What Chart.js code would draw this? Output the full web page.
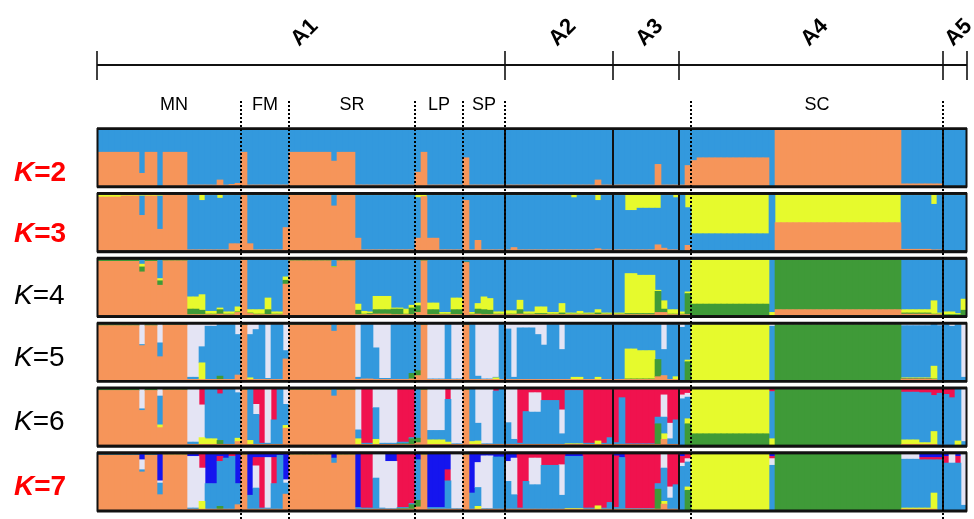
<!DOCTYPE html>
<html>
<head>
<meta charset="utf-8">
<script src="https://cdn.jsdelivr.net/npm/chart.js@4"></script>
<style>
  body { margin: 0; background: #fff; }
  #wrap { position: relative; width: 974px; height: 519px; overflow: hidden; font-family: "Liberation Sans", Arial, sans-serif; }
  #c { position: absolute; left: 0; top: 0; }
  .lbl { position: absolute; white-space: nowrap; transform: translate(-50%, -50%); }
  .grp { font-size: 22px; font-weight: bold; transform: translate(-50%, -50%) rotate(-45deg); }
  .pop { font-size: 18px; }
  .k { position: absolute; left: 14px; font-size: 28px; white-space: nowrap; transform: translateY(-50%); }
  .k i { font-style: italic; }
  .k.red { color: #ff0000; font-weight: bold; }
</style>
</head>
<body>
<div id="wrap">
  <canvas id="c" width="974" height="519"></canvas>
</div>
<script>
// cluster colours
const COLORS = {
  orange: "#F6955A",
  blue: "#3399DD",
  yellow: "#E6FA2D",
  green: "#3F9A38",
  lavender: "#E4E4F4",
  red: "#F0124E",
  navy: "#1515EE",
};

// stacking order (bottom -> top) for each K
const orderK2 = ["orange", "blue"];
const orderK3 = ["orange", "blue", "yellow"];
const orderK4 = ["orange", "green", "yellow", "blue"];
const orderK5 = ["orange", "green", "yellow", "blue", "lavender"];
const orderK6 = ["orange", "green", "yellow", "blue", "lavender", "red"];
const orderK7 = ["orange", "green", "yellow", "blue", "lavender", "red", "navy"];

// membership runs: [number of individuals, q1, q2, ...] in the order above
const runsK2 = [
  [7, .6, .4], [1, .22, .78], [2, .6, .4], [1, 0, 1], [4, .6, .4],
  [5, .01, .99], [1, .1, .9], [1, .01, .99], [1, .02, .98], [1, .04, .96],
  [1, .6, .4], [7, .01, .99],
  [7, .6, .4], [1, .44, .56], [3, .6, .4], [10, .01, .99],
  [1, .24, .76], [1, .6, .4], [6, .01, .99],
  [1, .5, .5], [21, .01, .99], [1, .1, .9], [9, .01, .99],
  [1, .38, .62], [4, .01, .99],
  [1, .36, .64], [1, .45, .55], [12, .5, .5], [1, 0, 1], [21, 1, 0], [7, .03, .97],
  [4, 0, 1],
];
const runsK3 = [
  [4, .96, 0, .04], [3, .98, 0, .02], [1, .63, .35, .02], [2, .98, 0, .02], [1, .38, .6, .02],
  [4, .99, 0, .01], [2, .01, .98, .01], [1, .01, .89, .1], [2, .01, .98, .01], [1, .01, .93, .06],
  [1, .01, .98, .01], [2, .12, .87, .01],
  [1, .99, 0, .01], [1, .12, .87, .01], [5, .01, .98, .01], [1, .41, .58, .01],
  [7, .99, 0, .01], [1, .8, .19, .01], [3, .99, 0, .01], [1, .22, .77, .01], [9, .01, .98, .01],
  [1, .22, .73, .05], [1, .97, 0, .03], [2, .22, .77, .01], [4, .01, .98, .01],
  [1, .9, .09, .01], [1, .01, .98, .01], [1, .18, .81, .01], [5, .01, .98, .01],
  [1, .05, .94, .01], [9, .01, .98, .01], [1, .01, .94, .05], [3, .01, .98, .01], [1, .03, .87, .1],
  [4, .01, .98, .01], [2, .01, .71, .28], [3, .01, .75, .24], [1, .1, .66, .24], [1, .04, .95, .01],
  [1, .01, .98, .01], [1, .01, .94, .05],
  [1, 0, 1, 0], [1, .09, .68, .23], [13, 0, .3, .7], [1, 0, 1, 0], [21, .5, 0, .5],
  [5, .02, .97, .01], [1, .01, .82, .17], [1, .01, .98, .01],
  [4, 0, .99, .01],
];
const runsK4 = [
  [7, .97, .02, .01, 0], [1, .78, .09, .05, .08], [2, .97, .02, .01, 0], [1, .54, .08, .04, .34],
  [4, .98, .01, .01, 0], [2, .01, .1, .22, .67], [1, .01, .08, .28, .63], [2, .01, .01, .05, .93],
  [1, .02, .08, .03, .87], [2, .01, .01, .04, .94], [1, .05, .01, .09, .85],
  [1, .99, .01, 0, 0], [1, .03, .01, .06, .9], [2, .01, .01, .08, .9], [1, .01, .09, .21, .69],
  [2, .01, .01, .04, .94], [1, .56, .07, .06, .31],
  [7, .98, .01, .01, 0], [1, .86, .01, .01, .12], [3, .98, .01, .01, 0], [1, .01, .08, .11, .8],
  [1, .01, .01, .05, .93], [1, .01, .02, .03, .94], [3, .02, .08, .24, .66], [2, .01, .1, .02, .87],
  [1, .01, .01, .09, .89], [1, .01, .12, .05, .82],
  [1, .05, .12, .05, .78], [1, .98, .01, .01, 0], [2, .01, .09, .12, .78], [2, .01, .01, .03, .95],
  [2, .01, .09, .21, .69],
  [1, .95, .01, 0, .04], [1, .01, .01, .03, .95], [1, .02, .09, .1, .79], [1, .01, .09, .23, .67],
  [1, .01, .08, .21, .7], [2, .01, .01, .04, .94],
  [2, .01, .01, .06, .92], [1, .02, .08, .17, .73], [2, .01, .01, .04, .94], [2, .01, .02, .12, .85],
  [2, .01, .01, .03, .95], [1, .01, .03, .17, .79], [2, .01, .01, .02, .96], [1, .01, .01, .05, .93],
  [2, .01, .01, .02, .96], [1, .01, .03, .06, .9], [4, .01, .01, .02, .96],
  [2, .01, .02, .72, .25], [3, .01, .02, .69, .28], [1, .05, .38, .02, .55], [1, .05, .06, .15, .74],
  [2, .01, .01, .08, .9],
  [1, .01, .01, .04, .94], [1, .01, .38, .03, .58], [13, 0, .2, .8, 0], [1, 0, 0, .05, .95],
  [21, .1, .9, 0, 0], [5, .02, .02, .06, .9], [1, .01, .01, .24, .74], [1, .01, .01, .02, .96],
  [2, 0, .01, .05, .94], [1, 0, .01, .02, .97], [1, 0, .09, .2, .71],
];
const runsK5 = [
  [7, .98, .02, 0, 0, 0], [1, .62, 0, 0, .02, .36], [2, .98, .02, 0, 0, 0], [1, .42, 0, 0, .25, .33],
  [4, .99, .01, 0, 0, 0], [2, .01, 0, 0, .04, .95], [1, .01, 0, .3, .29, .4], [2, .01, 0, 0, .96, .03],
  [1, .01, .06, 0, .93, 0], [2, .01, 0, 0, .99, 0], [1, .09, 0, 0, .73, .18],
  [1, .99, .01, 0, 0, 0], [1, .01, 0, .03, .78, .18], [1, .01, 0, 0, .9, .09], [1, .01, 0, 0, .99, 0],
  [1, .01, 0, 0, .02, .97], [2, .01, 0, 0, .99, 0], [1, .38, 0, 0, .15, .47],
  [7, .99, .01, 0, 0, 0], [1, .88, 0, 0, .12, 0], [3, .99, .01, 0, 0, 0], [1, .01, 0, 0, .04, .95],
  [2, .02, 0, 0, .98, 0], [1, .01, 0, 0, .57, .42], [2, .01, 0, 0, .02, .97], [3, .01, 0, 0, .99, 0],
  [1, .02, .1, 0, .88, 0],
  [1, .08, .09, 0, .83, 0], [1, .99, .01, 0, 0, 0], [3, .01, 0, 0, .01, .98], [1, .01, 0, 0, .99, 0],
  [2, .01, 0, 0, .01, .98],
  [1, .99, .01, 0, 0, 0], [1, .01, 0, 0, .99, 0], [1, .01, 0, 0, .06, .93], [2, .01, 0, 0, .01, .98],
  [1, .01, 0, .03, .01, .95], [1, .01, 0, 0, .99, 0],
  [1, .01, 0, 0, .91, .08], [1, .01, 0, 0, .04, .95], [3, .01, 0, 0, .93, .06], [1, .01, 0, 0, .81, .18],
  [1, .01, 0, 0, .62, .37], [2, .01, 0, 0, .99, 0], [1, .01, 0, 0, .54, .45], [1, .01, 0, 0, .99, 0],
  [2, .01, 0, .04, .95, 0], [2, .01, 0, 0, .99, 0], [1, .01, 0, .04, .95, 0], [4, .01, 0, 0, .99, 0],
  [2, .01, .01, .54, .44, 0], [3, .01, .01, .51, .47, 0], [1, .06, .31, 0, .63, 0], [1, .08, 0, 0, .47, .45],
  [1, .01, 0, 0, .99, 0], [1, .01, 0, .05, .94, 0],
  [1, 0, 0, 0, .95, .05], [1, 0, .33, .03, .64, 0], [13, 0, 0, 1, 0, 0], [1, 0, 0, 0, .97, .03],
  [21, 0, 1, 0, 0, 0], [5, .02, .01, .01, .94, .02], [1, .01, .01, .23, .75, 0], [1, 0, 0, 0, .98, .02],
  [1, 0, 0, 0, 1, 0], [1, 0, 0, 0, .97, .03], [1, 0, 0, 0, 1, 0], [1, 0, 0, 0, .05, .95],
];
const runsK6 = [
  [7, .98, .02, 0, 0, 0, 0], [1, .62, 0, 0, .03, .35, 0], [2, .98, .02, 0, 0, 0, 0],
  [1, .31, 0, .05, .52, .12, 0], [4, .99, .01, 0, 0, 0, 0], [2, .01, 0, 0, .04, .95, 0],
  [1, .01, 0, .12, 0, .59, .28], [2, .01, 0, .1, .89, 0, 0], [1, .01, .07, 0, .84, 0, .08],
  [2, .01, 0, 0, .99, 0, 0], [1, .06, 0, .06, .82, .06, 0],
  [1, .99, .01, 0, 0, 0, 0], [1, .01, 0, .07, .92, 0, 0], [1, .01, 0, 0, .54, .18, .27],
  [1, .01, 0, 0, .02, 0, .97], [1, .01, 0, 0, .02, .97, 0], [1, .01, 0, 0, .44, 0, .55],
  [1, .01, 0, 0, .99, 0, 0], [1, .3, 0, .05, .38, .27, 0],
  [7, .99, .01, 0, 0, 0, 0], [1, .88, 0, 0, .12, 0, 0], [3, .99, .01, 0, 0, 0, 0],
  [1, .01, 0, .1, .16, .73, 0], [2, .01, 0, 0, .02, 0, .97], [1, .01, 0, .09, .57, .33, 0],
  [3, .01, 0, 0, .02, .97, 0], [2, .01, .01, 0, .03, 0, .95], [1, .01, .1, 0, .02, 0, .87],
  [1, .04, .08, 0, .88, 0, 0], [1, .99, .01, 0, 0, 0, 0], [3, .01, 0, .08, .17, .74, 0],
  [1, .01, 0, .04, .77, 0, .18], [2, .01, 0, 0, .01, .98, 0],
  [1, .99, .01, 0, 0, 0, 0], [1, .01, 0, .05, .94, 0, 0], [1, .01, 0, .06, .32, .61, 0],
  [2, .01, 0, 0, .01, .98, 0], [1, .01, 0, 0, .96, 0, .03], [1, .01, 0, 0, .99, 0, 0],
  [1, .01, 0, 0, .39, .6, 0], [1, .01, 0, 0, .09, .9, 0], [1, .01, 0, 0, .02, 0, .97],
  [1, .01, 0, 0, .59, 0, .4], [2, .01, 0, 0, .58, .35, .06], [3, .01, 0, 0, .79, 0, .2],
  [1, .01, 0, 0, .19, .43, .37], [3, .01, 0, .01, .96, 0, .02], [2, .01, 0, 0, .02, 0, .97],
  [1, .01, 0, .06, 0, 0, .93], [1, .01, 0, 0, .02, 0, .97], [1, .01, 0, 0, .12, 0, .87],
  [1, .01, 0, 0, .03, 0, .96], [1, .01, 0, 0, .84, 0, .15], [5, .01, 0, 0, .01, 0, .98],
  [1, .01, .37, 0, .12, 0, .5], [1, .1, 0, .1, .3, .4, .1], [1, .01, 0, 0, .1, .28, .61],
  [1, .01, 0, 0, .44, 0, .55],
  [1, 0, 0, 0, .83, .07, .1], [1, 0, .38, .09, .39, .07, .07], [13, 0, .2, .8, 0, 0, 0],
  [1, 0, 0, .11, .85, 0, .04], [21, 0, 1, 0, 0, 0, 0], [3, .01, 0, .08, .86, 0, .05],
  [2, .01, 0, .03, .9, 0, .06], [1, .01, 0, .23, .65, 0, .11], [1, 0, 0, 0, .93, 0, .07],
  [1, 0, 0, 0, .91, 0, .09], [1, 0, 0, 0, .85, 0, .15], [1, 0, 0, .07, .93, 0, 0], [1, 0, 0, 0, .06, .94, 0],
];
const runsK7 = [
  [7, .98, .01, 0, 0, 0, 0, .01], [1, .68, 0, 0, .04, .18, 0, .1], [2, .98, .01, 0, 0, 0, 0, .01],
  [1, .27, 0, 0, .21, .04, 0, .48], [4, .99, .01, 0, 0, 0, 0, 0], [2, .01, 0, 0, .02, .93, 0, .04],
  [1, .01, 0, .14, 0, .6, .25, 0], [2, .01, 0, 0, .46, 0, 0, .53], [1, .01, .05, 0, .81, 0, .09, .04],
  [1, .01, 0, 0, .92, 0, 0, .07], [1, .01, 0, 0, .95, 0, .04, 0], [1, .09, 0, 0, .38, 0, 0, .53],
  [1, .99, .01, 0, 0, 0, 0, 0], [1, .01, 0, 0, .25, 0, 0, .74], [1, .01, 0, 0, .38, .4, .15, .06],
  [1, .01, 0, 0, .02, 0, .91, .06], [1, .01, 0, 0, .02, .91, 0, .06], [1, .01, 0, 0, .46, 0, .47, .06],
  [1, .01, 0, 0, .97, 0, 0, .02], [1, .28, 0, 0, .2, .06, 0, .46],
  [7, .99, .01, 0, 0, 0, 0, 0], [1, .84, 0, 0, .09, 0, 0, .07], [3, .99, .01, 0, 0, 0, 0, 0],
  [1, .01, 0, 0, .03, 0, 0, .96], [2, .01, 0, 0, .02, 0, .97, 0], [1, .01, 0, 0, .56, .43, 0, 0],
  [1, .01, 0, 0, .02, .97, 0, 0], [2, .01, 0, 0, .01, .85, 0, .13], [2, .01, .01, 0, .02, 0, .96, 0],
  [1, .01, .08, 0, .02, 0, .89, 0],
  [1, .05, .12, 0, .73, 0, 0, .1], [1, .99, .01, 0, 0, 0, 0, 0], [3, .01, 0, 0, .03, 0, 0, .96],
  [1, .01, 0, 0, .51, 0, .2, .28], [2, .01, 0, 0, .01, .98, 0, 0],
  [1, .99, .01, 0, 0, 0, 0, 0], [1, .01, 0, 0, .29, 0, 0, .7], [1, .01, 0, .05, .34, .45, 0, .15],
  [2, .01, 0, 0, .01, .95, 0, .03], [2, .01, 0, 0, .94, 0, 0, .05],
  [1, .01, 0, 0, .5, .36, 0, .13], [1, .01, 0, 0, .26, .66, 0, .07], [1, .01, 0, 0, .02, 0, .97, 0],
  [1, .01, 0, 0, .5, 0, .49, 0], [2, .01, 0, 0, .44, .48, .07, 0], [3, .01, 0, 0, .79, 0, .2, 0],
  [1, .01, 0, 0, .25, .55, .19, 0], [3, .01, 0, .01, .94, 0, 0, .04], [2, .01, 0, 0, .02, 0, .97, 0],
  [1, .01, 0, .06, 0, 0, .93, 0], [1, .01, 0, 0, .02, 0, .97, 0], [1, .01, 0, 0, .12, 0, .87, 0],
  [1, .01, 0, 0, .03, 0, .93, .03], [1, .01, 0, 0, .93, 0, 0, .06], [5, .01, 0, 0, .01, 0, .98, 0],
  [1, .01, .36, 0, .1, 0, .53, 0], [1, .1, 0, .05, .6, .25, 0, 0], [1, .01, 0, 0, .2, .2, .59, 0],
  [1, .01, 0, 0, .44, 0, .55, 0],
  [1, 0, 0, 0, .78, .06, .12, .04], [1, 0, .35, .06, .45, .06, .08, 0], [13, 0, 0, 1, 0, 0, 0, 0],
  [1, 0, 0, 0, .8, .12, .04, .04], [21, 0, 1, 0, 0, 0, 0, 0], [3, .01, 0, .02, .88, .09, 0, 0],
  [2, .01, 0, .02, .87, 0, .04, .06], [1, .01, 0, .29, .6, 0, .04, .06], [1, 0, 0, 0, .9, 0, .04, .06],
  [1, 0, 0, 0, .84, 0, .12, .04], [1, 0, 0, 0, .84, .16, 0, 0], [1, 0, 0, 0, .84, 0, .12, .04],
  [1, 0, 0, 0, .08, .92, 0, 0],
];

const kLabels = ["2", "3", "4", "5", "6", "7"];
const kRed = [true, true, false, false, false, true];

// sampled populations (first individual of each, dotted separators) and groups A1-A5
const popNames = ["MN", "FM", "SR", "LP", "SP", "SC"];
const popStart = [0, 24, 32, 53, 61, 99];
const popEnd = [24, 32, 53, 61, 68, 141];
const dottedAt = [24, 32, 53, 61, 68, 99, 141];
const groupNames = ["A1", "A2", "A3", "A4", "A5"];
const groupStart = [0, 68, 86, 97, 141];
const groupEnd = [68, 86, 97, 141, 145];

const allRuns = [runsK2, runsK3, runsK4, runsK5, runsK6, runsK7];
const allOrders = [orderK2, orderK3, orderK4, orderK5, orderK6, orderK7];

function expand(runs) {
  const out = [];
  runs.forEach((r) => {
    for (let i = 0; i < r[0]; i++) out.push(r.slice(1));
  });
  return out;
}

const N = expand(runsK2).length;
const H = 0.856; // filled part of each row band

const datasets = [];
allRuns.forEach((runs, row) => {
  const inds = expand(runs);
  allOrders[row].forEach((col, k) => {
    const data = inds.map((q) => {
      if (!q[k]) return null;
      let lo = 0;
      for (let j = 0; j < k; j++) lo += q[j];
      const hi = lo + q[k];
      return [row + H - hi * H, row + H - lo * H];
    });
    datasets.push({
      label: "K" + kLabels[row] + " " + col,
      data: data,
      backgroundColor: COLORS[col],
      borderWidth: 0,
      grouped: false,
      barPercentage: 1,
      categoryPercentage: 1,
    });
  });
});

// frames, separators and the A1-A5 bracket, placed with the chart's own scales
const decor = {
  id: "decor",
  afterDatasetsDraw(chart) {
    const ctx = chart.ctx;
    const x = chart.scales.x;
    const y = chart.scales.y;
    const w = (x.right - x.left) / N;
    const edge = (i) => (i < N ? x.getPixelForValue(i) - w / 2 : x.getPixelForValue(N - 1) + w / 2);
    ctx.save();
    ctx.strokeStyle = "#111";

    // solid group separators inside each row
    ctx.lineWidth = 2;
    for (let r = 0; r < 6; r++) {
      const t = y.getPixelForValue(r), b = y.getPixelForValue(r + H);
      groupStart.slice(1).forEach((g) => {
        ctx.beginPath();
        ctx.moveTo(edge(g), t);
        ctx.lineTo(edge(g), b);
        ctx.stroke();
      });
    }

    // row frames
    for (let r = 0; r < 6; r++) {
      const t = y.getPixelForValue(r), b = y.getPixelForValue(r + H);
      ctx.lineWidth = 2;
      ctx.strokeRect(edge(0) + 0.5, t - 1, edge(N) - edge(0) - 1, b - t + 2);
      ctx.lineWidth = 2.8;
      ctx.beginPath();
      ctx.moveTo(edge(0), t - 1.4);
      ctx.lineTo(edge(N), t - 1.4);
      ctx.moveTo(edge(0), b + 1.4);
      ctx.lineTo(edge(N), b + 1.4);
      ctx.stroke();
    }

    // dotted population lines
    ctx.strokeStyle = "#000";
    ctx.lineWidth = 2;
    ctx.setLineDash([2, 2]);
    dottedAt.forEach((i) => {
      ctx.beginPath();
      ctx.moveTo(edge(i), 101);
      ctx.lineTo(edge(i), 519);
      ctx.stroke();
    });
    ctx.setLineDash([]);

    // bracket
    ctx.strokeStyle = "#111";
    ctx.lineWidth = 2;
    ctx.beginPath();
    ctx.moveTo(edge(0), 65);
    ctx.lineTo(edge(N), 65);
    ctx.stroke();
    ctx.lineWidth = 1.6;
    groupStart.concat([N]).forEach((g) => {
      ctx.beginPath();
      ctx.moveTo(edge(g), 51);
      ctx.lineTo(edge(g), 80);
      ctx.stroke();
    });
    ctx.restore();

    placeLabels(edge, y);
  },
};

let labelsDone = false;
function placeLabels(edge, y) {
  if (labelsDone) return;
  labelsDone = true;
  const wrap = document.getElementById("wrap");
  groupNames.forEach((g, i) => {
    const d = document.createElement("div");
    d.className = "lbl grp";
    d.textContent = g;
    d.style.left = (edge(groupStart[i]) + edge(groupEnd[i])) / 2 + 3 + "px";
    d.style.top = "32px";
    wrap.appendChild(d);
  });
  popNames.forEach((p, i) => {
    const d = document.createElement("div");
    d.className = "lbl pop";
    d.textContent = p;
    let cx = (edge(popStart[i]) + edge(popEnd[i])) / 2;
    if (p === "MN") cx += 5;
    d.style.left = cx + "px";
    d.style.top = "104px";
    wrap.appendChild(d);
  });
  const kY = [172, 233, 295, 357, 421, 486];
  kLabels.forEach((k, r) => {
    const d = document.createElement("div");
    d.className = "k" + (kRed[r] ? " red" : "");
    d.innerHTML = "<i>K</i>=" + k;
    d.style.top = kY[r] + "px";
    wrap.appendChild(d);
  });
}

new Chart(document.getElementById("c").getContext("2d"), {
  type: "bar",
  data: {
    labels: Array.from({ length: N }, (_, i) => String(i + 1)),
    datasets: datasets,
  },
  plugins: [decor],
  options: {
    responsive: false,
    animation: false,
    devicePixelRatio: 1,
    layout: { padding: { left: 97, right: 7, top: 130, bottom: 0 } },
    plugins: { legend: { display: false }, tooltip: { enabled: false } },
    scales: {
      x: { display: false },
      y: { display: false, min: 0, max: 6, reverse: true },
    },
  },
});
</script>
</body>
</html>
